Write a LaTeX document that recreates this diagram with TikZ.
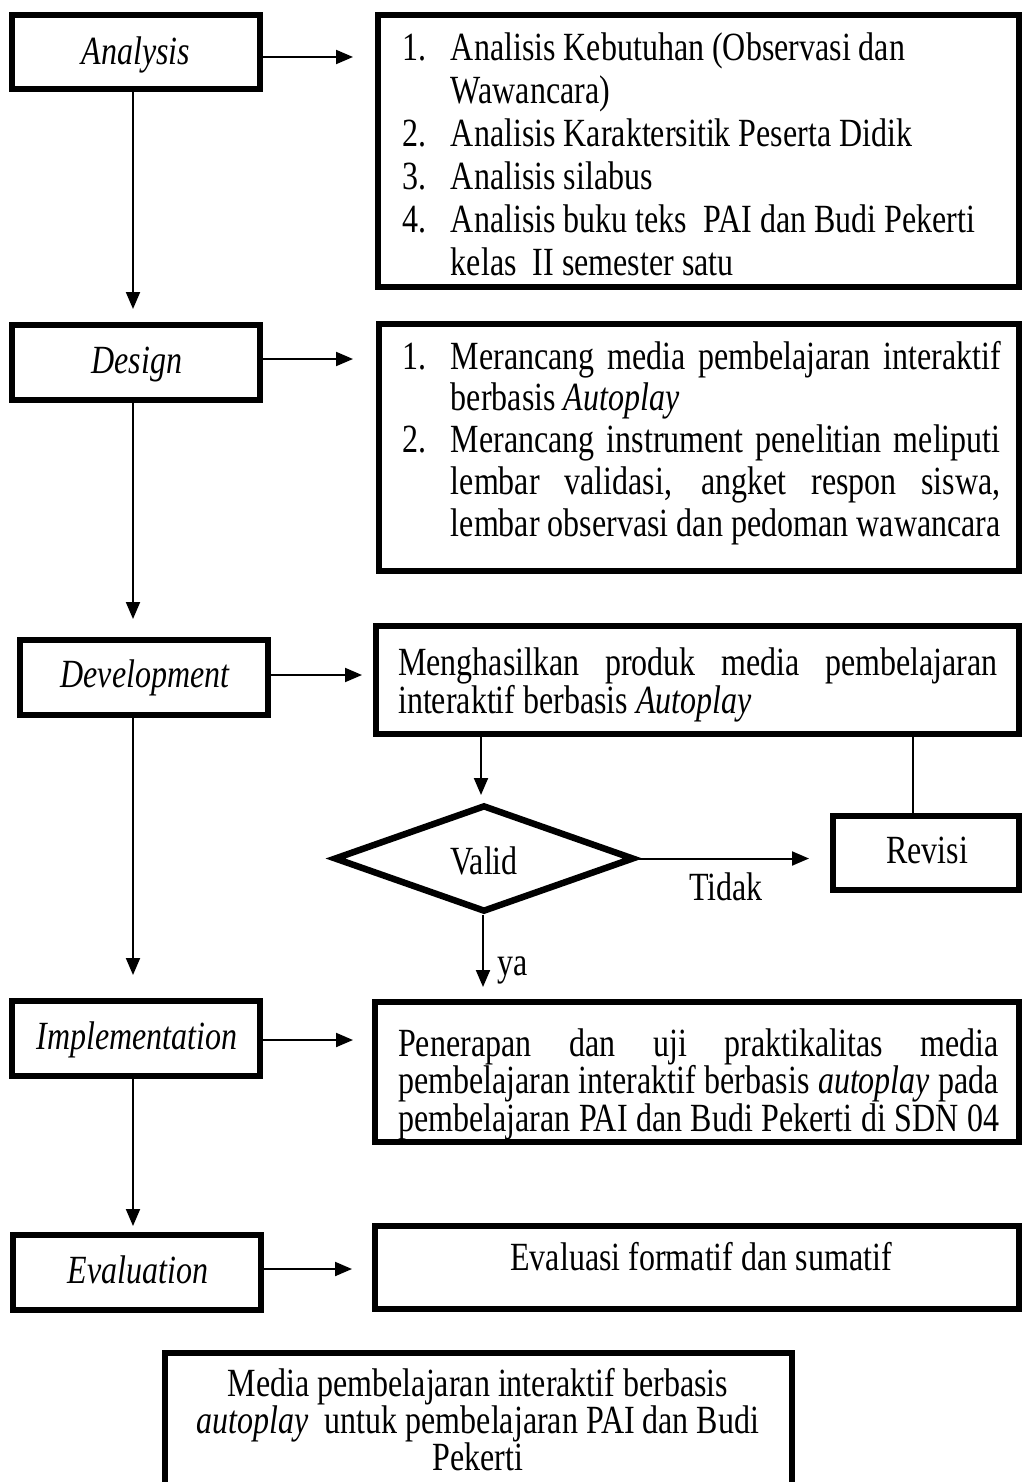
\documentclass[tikz,border=0pt]{standalone}
\usepackage{fontspec}
\setmainfont{Liberation Serif}
\usetikzlibrary{arrows.meta,shapes.geometric}
\newcommand\tstrut{\rule{0pt}{30pt}}
\newcommand\natsp{\spaceskip=0pt\xspaceskip=0pt\relax}
\begin{document}
\begin{tikzpicture}[x=1pt,y=-1pt,
  box/.style={draw,line width=6.5pt,rectangle,inner sep=0pt},
  arr/.style={line width=2pt,-{Triangle[length=17pt,width=14pt]}},
  conn/.style={line width=2pt},
  txt/.style={inner sep=0pt,xscale=0.8},
  lbl/.style={txt,font=\fontsize{40}{43}\selectfont\itshape,anchor=base},
  plain/.style={txt,font=\fontsize{40}{43}\selectfont},
]
\useasboundingbox (0,0) rectangle (1022,1482);
\fill[white] (0,0) rectangle (1022,1482);
\clip (0,0) rectangle (1022,1482);

% left boxes
\node[box,minimum width=248pt,minimum height=74pt] (an) at (136,52) {};
\node[box,minimum width=248pt,minimum height=75pt] (de) at (136,362.5) {};
\node[box,minimum width=248pt,minimum height=75pt] (dv) at (144,677.5) {};
\node[box,minimum width=248pt,minimum height=75pt] (im) at (136,1038.5) {};
\node[box,minimum width=248pt,minimum height=75pt] (ev) at (137,1272.5) {};

% right boxes
\node[box,minimum width=641pt,minimum height=272pt] (r1) at (698.5,151) {};
\node[box,minimum width=640pt,minimum height=247pt] (r2) at (699,447.5) {};
\node[box,minimum width=643pt,minimum height=108pt] (r3) at (697.5,680) {};
\node[box,minimum width=644pt,minimum height=140pt] (r4) at (697,1072) {};
\node[box,minimum width=644pt,minimum height=83pt] (r5) at (697,1267.5) {};
\node[box,minimum width=186pt,minimum height=74pt] (rv) at (926,853) {};
\node[box,minimum width=627pt,minimum height=147pt] (fin) at (478.5,1426.5) {};
\node[draw,diamond,line width=6.5pt,inner sep=0pt,minimum width=300pt,minimum height=107pt] (diam) at (484,858.5) {};

% vertical connectors on the left
\coordinate (c1) at (133,309);
\coordinate (c2) at (133,619);
\coordinate (c3) at (133,975);
\coordinate (c4) at (133,1226);
\draw[arr] (an.south -| c1) -- (c1);
\draw[arr] (de.south -| c2) -- (c2);
\draw[arr] (dv.south -| c3) -- (c3);
\draw[arr] (im.south -| c4) -- (c4);

% horizontal connectors
\coordinate (h1) at (353,57);
\coordinate (h2) at (353,359);
\coordinate (h3) at (362,675);
\coordinate (h4) at (353,1040);
\coordinate (h5) at (352,1269);
\draw[arr] (an.east |- h1) -- (h1);
\draw[arr] (de.east |- h2) -- (h2);
\draw[arr] (dv.east |- h3) -- (h3);
\draw[arr] (im.east |- h4) -- (h4);
\draw[arr] (ev.east |- h5) -- (h5);

% diamond connectors
\coordinate (d1) at (481,795);
\coordinate (d2) at (809,858.5);
\coordinate (d3) at (483,987);
\coordinate (rl) at (913,0);
\draw[arr] (r3.south -| d1) -- (d1);
\draw[arr] (diam.east) -- (d2);
\draw[arr] (diam.south -| d3) -- (d3);
\draw[conn] (rv.north -| rl) -- (r3.south -| rl);

% left labels
\node[lbl] (tan) at (136,65) {Analysis};
\node[lbl] (tde) at (137,373) {Design};
\node[lbl] (tdv) at (145,687) {Development};
\node[lbl] (tim) at (137,1049) {Implementation};
\node[lbl] (tev) at (138,1283) {Evaluation};

% right texts
\node[plain,font=\fontsize{40}{43}\selectfont,anchor=north west,text width=749pt,align=left] (t1) at (402,30) {\natsp
\tstrut\makebox[61pt][l]{1.}Analisis Kebutuhan (Observasi dan\\
\hspace*{61pt}Wawancara)\\
\makebox[61pt][l]{2.}Analisis Karaktersitik Peserta Didik\\
\makebox[61pt][l]{3.}Analisis silabus\\
\makebox[61pt][l]{4.}Analisis buku teks\ \ PAI dan Budi Pekerti\\
\hspace*{61pt}kelas\ \ II semester satu};

\node[plain,font=\fontsize{40}{41.75}\selectfont,anchor=north west,text width=749pt,align=left] (t2) at (402,339) {\natsp
\tstrut\makebox[61pt][l]{1.}\makebox[687pt][s]{Merancang media pembelajaran interaktif}\\
\hspace*{61pt}berbasis \textit{Autoplay}\\
\makebox[61pt][l]{2.}\makebox[687pt][s]{Merancang instrument penelitian meliputi}\\
\hspace*{61pt}\makebox[687pt][s]{lembar validasi, angket respon siswa,}\\
\hspace*{61pt}\makebox[687pt][s]{lembar observasi dan pedoman wawancara}};

\node[plain,font=\fontsize{40}{35}\selectfont,anchor=north west,text width=749pt,align=left] (t3) at (398,645) {\natsp
\tstrut\makebox[749pt][s]{Menghasilkan produk media pembelajaran}\\
interaktif berbasis \textit{Autoplay}};

\node[plain,font=\fontsize{40}{36}\selectfont,anchor=north west,text width=751pt,align=left] (t4) at (398,1026) {\natsp
\tstrut\makebox[751pt][s]{Penerapan dan uji praktikalitas media}\\
\makebox[751pt][s]{pembelajaran interaktif berbasis \textit{autoplay} pada}\\
\makebox[751pt][s]{pembelajaran PAI dan Budi Pekerti di SDN 04}};

\node[plain,anchor=base] (t5) at (701,1270) {Evaluasi formatif dan sumatif};

\node[plain,font=\fontsize{40}{37}\selectfont,anchor=north,align=center] (t6) at (478,1366) {%
\tstrut Media pembelajaran interaktif berbasis\\
\textit{autoplay}\ \ untuk pembelajaran PAI dan Budi\\
Pekerti};

\node[plain,anchor=base] (trv) at (927,863) {Revisi};
\node[plain,anchor=base] (tva) at (484,874) {Valid};
\node[plain,anchor=base] (ttd) at (726,900) {Tidak};
\node[plain,anchor=base west] (tya) at (497,975) {ya};
\end{tikzpicture}
\end{document}
